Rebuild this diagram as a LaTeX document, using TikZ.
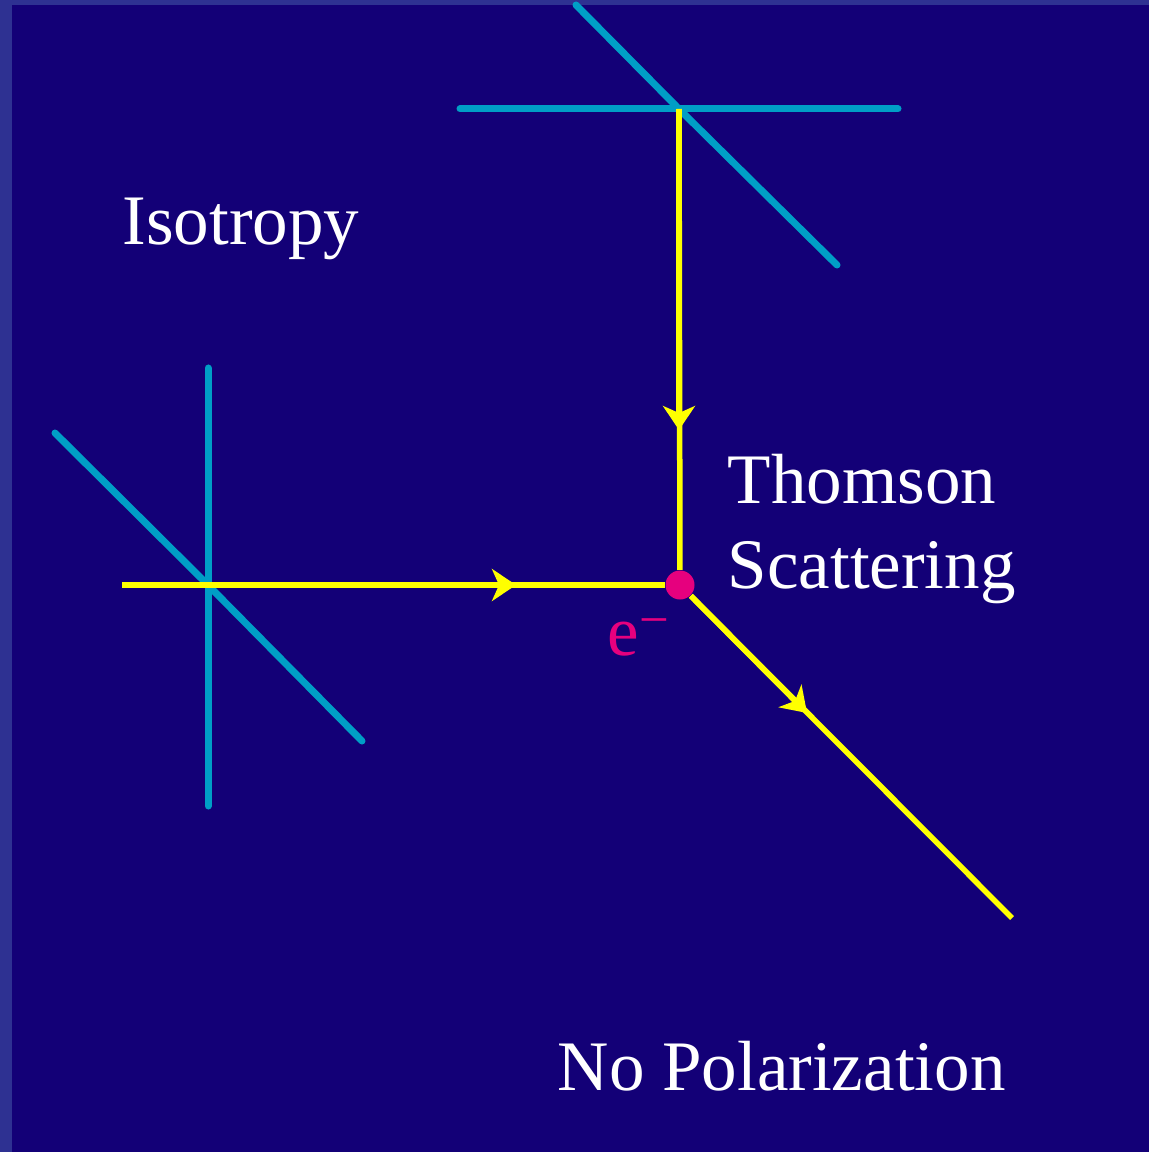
\documentclass[tikz,border=0pt]{standalone}
\usepackage{fontspec}
\setmainfont{Liberation Serif}
\usepackage{tikz}
\usetikzlibrary{arrows.meta, positioning}

\definecolor{frame}{RGB}{46,49,146}
\definecolor{night}{RGB}{19,0,119}
\definecolor{wave}{RGB}{0,158,198}
\definecolor{ray}{RGB}{255,255,0}
\definecolor{elec}{RGB}{230,0,126}

\begin{document}
\begin{tikzpicture}[
    x=0.01cm, y=-0.01cm,
    pol/.style={draw=wave, line width=0.07cm, line cap=round},
    ray/.style={draw=ray, line width=0.055cm},
    arr/.style={ray, -{Stealth[length=0.24cm, width=0.32cm, inset=0.07cm]}},
    lbl/.style={anchor=base west, inner sep=0pt, text=white,
                font=\fontsize{20.2pt}{24pt}\selectfont},
    electron/.style={circle, fill=elec, minimum size=0.29cm, inner sep=0pt},
]

% background and frame
\fill[frame] (0,0) rectangle (1149,1152);
\fill[night] (12,5) rectangle (1149,1152);
\useasboundingbox (0,0) rectangle (1149,1152);

% scattering points
\coordinate (top) at (679,109);
\coordinate (left) at (208,585);
\coordinate (start) at (122,585);
\coordinate (out) at (1012,918);
\node[electron] (e) at (680,585) {};

% polarization crosses
\draw[pol] (460,109) -- (top) -- (898,109);
\draw[pol] (576,5) -- (top) -- (837,265);
\draw[pol] (208,368) -- (left) -- (208,806);
\draw[pol] (55,433) -- (left) -- (362,741);

% photon paths
\coordinate (intop) at (679,430);
\coordinate (inleft) at (516,585);
\coordinate (outarr) at (807,713);

\draw[ray] (top) -- (e);
\draw[ray] (start) -- (e);
\draw[ray] (e) -- (out);
\draw[arr] (top) -- (intop);
\draw[arr] (start) -- (inleft);
\draw[arr] (e) -- (outarr);

% labels
\node[lbl] (iso) at (122,245) {Isotropy};
\node[lbl] (thom) at (727,503) {Thomson};
\node[lbl] (scat) at (727,588) {Scattering};
\node[lbl] (nopol) at (557,1090) {No Polarization};
\node[lbl, text=elec] (elab) at (607,655)
    {e\raisebox{5pt}{\fontsize{15pt}{15pt}\selectfont\char"2212}};

\end{tikzpicture}
\end{document}
